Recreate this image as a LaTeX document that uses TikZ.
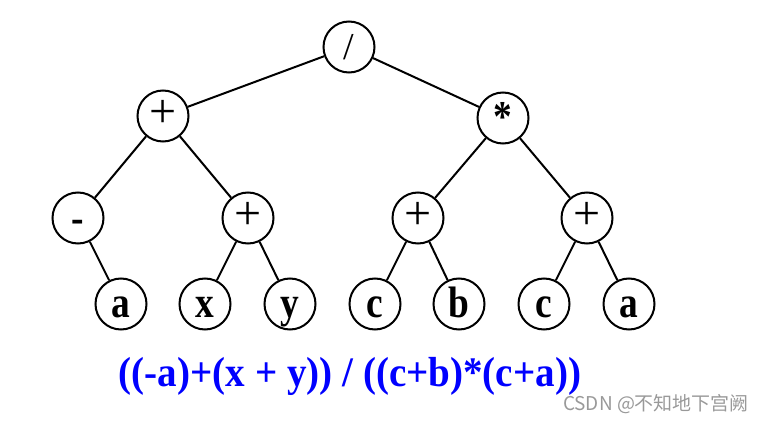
\documentclass[tikz,border=0pt]{standalone}
\usepackage{fontspec}
\setmainfont{Liberation Serif}
\newfontfamily\treefont[FakeStretch=0.85]{Liberation Serif}
\newfontfamily\exprfont[FakeStretch=0.93]{Liberation Serif}
\newfontfamily\cjkfont{Noto Sans CJK SC}
\definecolor{exprblue}{RGB}{0,0,255}

\begin{document}
\begin{tikzpicture}[x=1pt,y=-1pt,
    vertex/.style={draw, circle, line width=2pt, minimum size=51pt, inner sep=0pt, text depth=0pt},
    leaf/.style={vertex, text height=26pt, font=\treefont\fontsize{44}{44}\selectfont\bfseries},
    op/.style={vertex, text height=24pt, font=\fontsize{48}{48}\selectfont},
    edge/.style={line width=2pt}]
    \useasboundingbox (0,0) rectangle (766,422);
    % Root and operators
    \node[vertex, text height=25pt, font=\fontsize{38}{38}\selectfont] (div) at (349,47) {/};
    \node[op] (plusL) at (163,116) {+};
    \node[vertex, text height=28pt, font=\treefont\fontsize{44}{44}\selectfont\bfseries] (times) at (503,118) {*};
    \node[vertex, text height=29pt, font=\treefont\fontsize{44}{44}\selectfont\bfseries] (neg) at (78,218) {-};
    \node[op] (plusxy) at (248,218) {+};
    \node[op] (pluscb) at (418,218) {+};
    \node[op] (plusca) at (587,218) {+};
    % Leaves
    \node[leaf] (a1) at (121,304) {a};
    \node[leaf] (x) at (205,304) {x};
    \node[leaf] (y) at (290,304) {y};
    \node[leaf] (c1) at (375,304) {c};
    \node[leaf] (b) at (459,304) {b};
    \node[leaf] (c2) at (544,304) {c};
    \node[leaf] (a2) at (629,304) {a};
    % Edges
    \draw[edge] (div) -- (plusL);
    \draw[edge] (div) -- (times);
    \draw[edge] (plusL) -- (neg);
    \draw[edge] (plusL) -- (plusxy);
    \draw[edge] (times) -- (pluscb);
    \draw[edge] (times) -- (plusca);
    \draw[edge] (neg) -- (a1);
    \draw[edge] (plusxy) -- (x);
    \draw[edge] (plusxy) -- (y);
    \draw[edge] (pluscb) -- (c1);
    \draw[edge] (pluscb) -- (b);
    \draw[edge] (plusca) -- (c2);
    \draw[edge] (plusca) -- (a2);
    % Expression
    \node[anchor=base, text=exprblue, font=\exprfont\fontsize{42}{42}\selectfont\bfseries] (expr) at (350,386) {((-a)+(x + y)) / ((c+b)*(c+a))};
    \node[text=black!40, font=\cjkfont\fontsize{19}{19}\selectfont] (mark) at (656,404) {CSDN @不知地下宫阙};
\end{tikzpicture}
\end{document}
